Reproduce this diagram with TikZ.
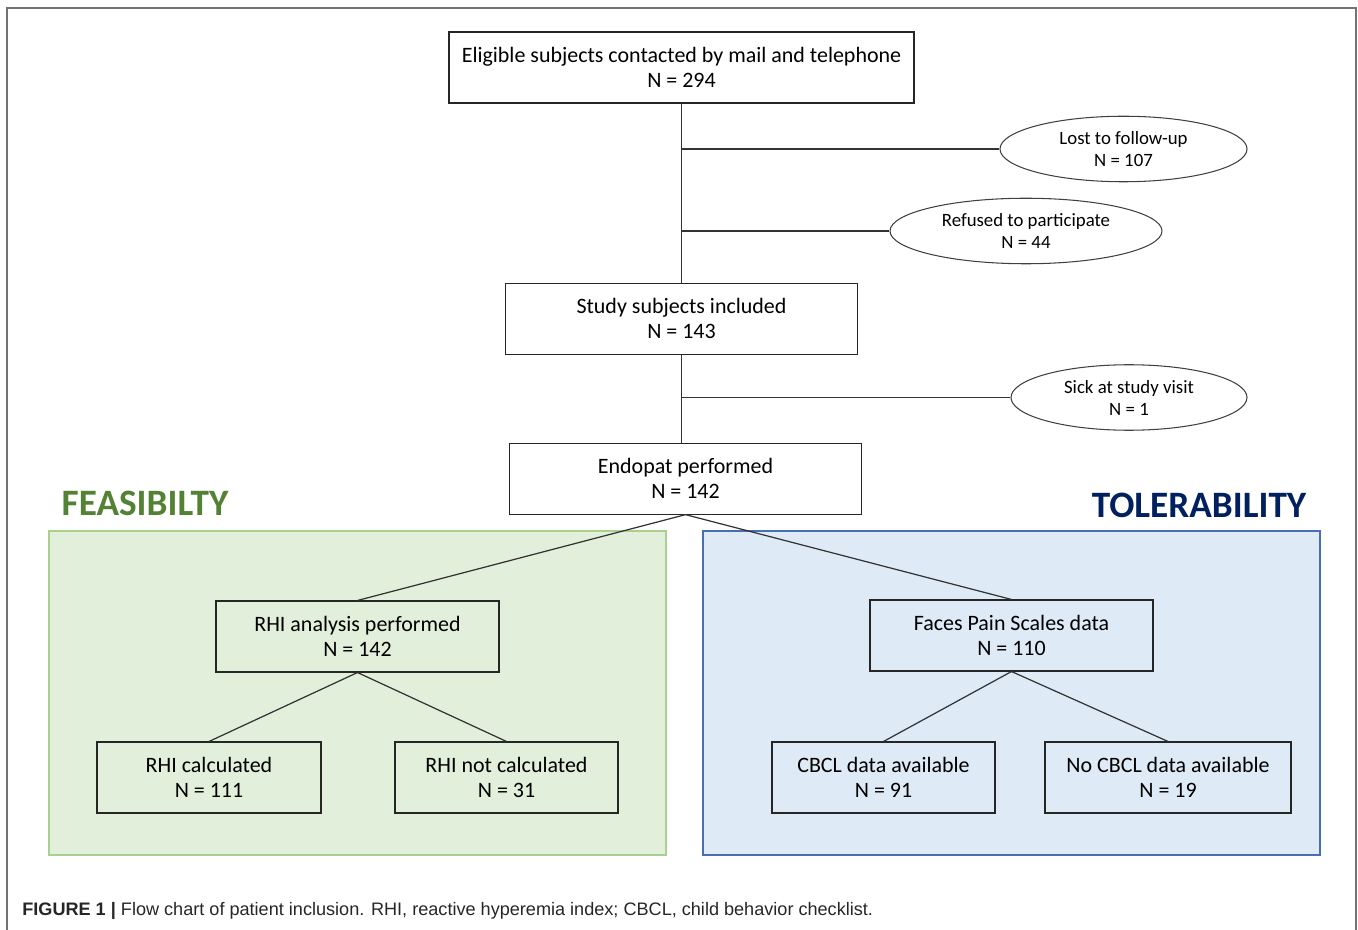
\documentclass[tikz,border=0pt]{standalone}
\usepackage{fontspec}
\setmainfont{Carlito}
\newfontfamily\captionfont{Liberation Sans}
\usepackage{tikz}
\usetikzlibrary{positioning, shapes.geometric}

\definecolor{feasgreen}{HTML}{548235}
\definecolor{tolnavy}{HTML}{002060}
\definecolor{greenfill}{HTML}{E2EFDA}
\definecolor{greenline}{HTML}{A9D18E}
\definecolor{bluefill}{HTML}{DEEBF7}
\definecolor{blueline}{HTML}{4A6FB0}

\begin{document}
\begin{tikzpicture}[
    node distance=1.76cm and 1cm,
    box/.style={rectangle, draw=black!85, line width=0.6pt, minimum height=1.42cm, align=center, inner sep=2pt,
        font=\fontsize{12.5}{14.4}\selectfont},
    oval/.style={ellipse, draw=black!75, line width=0.6pt, minimum height=1.31cm, align=center, inner sep=1pt,
        font=\fontsize{10.7}{12.5}\selectfont},
    link/.style={draw=black!80, line width=0.7pt},
    panel title/.style={font=\fontsize{21.2}{24}\selectfont\bfseries},
]
    \useasboundingbox (0,0) rectangle (27.16,-18.6);
    % outer frame, open at the bottom
    \draw[black!55, line width=1.1pt] (0.14,-18.6) -- (0.14,-0.16) -- (27.12,-0.16) -- (27.12,-18.6);

    % the two panels
    \draw[fill=greenfill, draw=greenline, line width=0.7pt] (0.98,-10.62) rectangle (13.32,-17.1);
    \draw[fill=bluefill, draw=blueline, line width=0.7pt] (14.06,-10.62) rectangle (26.4,-17.1);
    \node[panel title, text=feasgreen] (feas) at (2.9,-10.06) {FEASIBILTY};
    \node[panel title, text=tolnavy] (tol) at (23.98,-10.1) {TOLERABILITY};

    % main chain
    \node[box, minimum width=9.3cm] (eligible) at (13.63,-1.35) {Eligible subjects contacted by mail and telephone\\N = 294};
    \node[box, minimum width=7.04cm, below=3.58cm of eligible] (included) {Study subjects included\\N = 143};
    \node[box, minimum width=7.04cm, below=of included, xshift=0.08cm] (endopat) {Endopat performed\\N = 142};

    % drop-outs
    \node[oval, minimum width=4.94cm] (lost) at (22.47,-2.98) {Lost to follow-up\\N = 107};
    \node[oval, minimum width=5.44cm] (refused) at (20.52,-4.62) {Refused to participate\\N = 44};
    \node[oval, minimum width=4.72cm] (sick) at (22.58,-7.95) {Sick at study visit\\N = 1};

    % feasibility side
    \node[box, minimum width=5.66cm] (rhi) at (7.15,-12.73) {RHI analysis performed\\N = 142};
    \node[box, minimum width=4.48cm] (rhiyes) at (4.18,-15.55) {RHI calculated\\N = 111};
    \node[box, minimum width=4.46cm] (rhino) at (10.13,-15.55) {RHI not calculated\\N = 31};

    % tolerability side
    \node[box, minimum width=5.66cm] (faces) at (20.23,-12.71) {Faces Pain Scales data\\N = 110};
    \node[box, minimum width=4.46cm] (cbcl) at (17.67,-15.55) {CBCL data available\\N = 91};
    \node[box, minimum width=4.92cm] (nocbcl) at (23.36,-15.55) {No CBCL data available\\N = 19};

    \draw[link] (eligible) -- (included);
    \draw[link] (included.south) -- (included.south |- endopat.north);
    \draw[link] (lost.west) -- (lost.west -| eligible.south);
    \draw[link] (refused.west) -- (refused.west -| eligible.south);
    \draw[link] (sick.west) -- (sick.west -| included.south);
    \draw[link] (endopat.south) -- (rhi.north);
    \draw[link] (endopat.south) -- (faces.north);
    \draw[link] (rhi.south) -- (rhiyes.north);
    \draw[link] (rhi.south) -- (rhino.north);
    \draw[link] (faces.south) -- (cbcl.north);
    \draw[link] (faces.south) -- (nocbcl.north);

    \node[anchor=west, inner sep=0pt, font=\captionfont\fontsize{10.3}{12}\selectfont, text=black!85] (caption) at (0.44,-18.22)
        {\textbf{FIGURE 1 |} Flow chart of patient inclusion. RHI, reactive hyperemia index; CBCL, child behavior checklist.};
\end{tikzpicture}
\end{document}
